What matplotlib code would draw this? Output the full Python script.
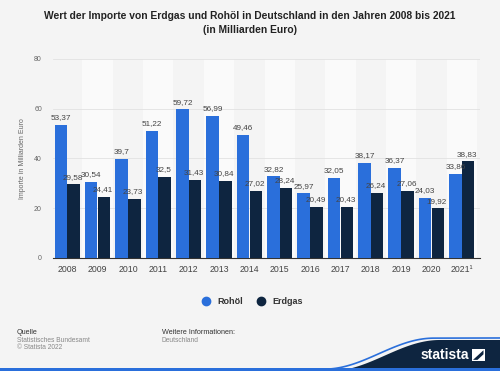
import matplotlib
matplotlib.use("Agg")
import matplotlib.pyplot as plt
from matplotlib.patches import Polygon, Rectangle
from matplotlib.lines import Line2D
import numpy as np

plt.rcParams["font.family"] = ["Liberation Sans", "DejaVu Sans"]

years = ["2008", "2009", "2010", "2011", "2012", "2013", "2014", "2015",
         "2016", "2017", "2018", "2019", "2020", "2021¹"]
rohoel = [53.37, 30.54, 39.7, 51.22, 59.72, 56.99, 49.46, 32.82, 25.97,
          32.05, 38.17, 36.37, 24.03, 33.86]
erdgas = [29.58, 24.41, 23.73, 32.5, 31.43, 30.84, 27.02, 28.24, 20.49,
          20.43, 26.24, 27.06, 19.92, 38.83]
yticks = [0, 20, 40, 60, 80]

BG = "#f4f4f4"
BLUE = "#2a6fdb"
NAVY = "#0e2540"

fig = plt.figure(figsize=(5, 3.71), dpi=100)
fig.patch.set_facecolor(BG)
ax = fig.add_axes([0.106, 0.3046, 0.854, 0.5364])
ax.set_facecolor(BG)

x = np.arange(len(years))
for i in x:
    if i % 2 == 1:
        ax.axvspan(i - 0.5, i + 0.5, color="#fafafa", zorder=0, lw=0)

w = 0.41
ax.bar(x - w / 2 - 0.005, rohoel, w, color=BLUE, zorder=3)
ax.bar(x + w / 2 + 0.005, erdgas, w, color=NAVY, zorder=3)

def fmt(v):
    s = ("%.2f" % v).rstrip("0").rstrip(".")
    return s.replace(".", ",")

for xi, v in zip(x - w / 2, rohoel):
    ax.text(xi, v + 1.5, fmt(v), ha="center", va="bottom", fontsize=5.9,
            color="#444444", zorder=4)
for xi, v in zip(x + w / 2, erdgas):
    ax.text(xi - 0.03, v + 1.5, fmt(v), ha="center", va="bottom", fontsize=5.9,
            color="#444444", zorder=4)

ax.set_ylim(0, 80)
ax.set_xlim(-0.47, 13.6)
ax.set_yticks(yticks)
ax.set_yticklabels([str(t) for t in yticks], fontsize=5, color="#666666")
ax.set_xticks(x)
ax.set_xticklabels(years, fontsize=6.3, color="#444444")
ax.tick_params(axis="both", length=0)
ax.tick_params(axis="y", pad=8)
ax.tick_params(axis="x", pad=5)
ax.grid(axis="y", color="#e2e2e2", lw=0.6, zorder=1)
for s in ["top", "right", "left"]:
    ax.spines[s].set_visible(False)
ax.spines["bottom"].set_color("#333333")
ax.spines["bottom"].set_linewidth(0.8)
ax.set_ylabel("Importe in Milliarden Euro", fontsize=5, color="#666666", labelpad=6)

fig.text(0.5, 0.958, "Wert der Importe von Erdgas und Rohöl in Deutschland in den Jahren 2008 bis 2021",
         ha="center", va="center", fontsize=7.4, fontweight="bold", color="#222222")
fig.text(0.5, 0.918, "(in Milliarden Euro)", ha="center", va="center",
         fontsize=7.4, fontweight="bold", color="#222222")

handles = [Line2D([], [], marker="o", ls="", color=BLUE, markersize=6),
           Line2D([], [], marker="o", ls="", color=NAVY, markersize=6)]
leg = fig.legend(handles, ["Rohöl", "Erdgas"], loc="center", bbox_to_anchor=(0.5, 0.186),
                 ncol=2, frameon=False, fontsize=6.5, handletextpad=0.3, columnspacing=1.0)
for t in leg.get_texts():
    t.set_fontweight("bold")
    t.set_color("#333333")

fig.text(0.034, 0.105, "Quelle", fontsize=5.2, color="#333333", va="center")
fig.text(0.034, 0.083, "Statistisches Bundesamt", fontsize=4.8, color="#888888", va="center")
fig.text(0.034, 0.062, "© Statista 2022", fontsize=4.8, color="#888888", va="center")
fig.text(0.324, 0.105, "Weitere Informationen:", fontsize=5.2, color="#333333", va="center")
fig.text(0.324, 0.083, "Deutschland", fontsize=4.8, color="#888888", va="center")

# statista logo area
t = np.linspace(0, 1, 60)
xs = 0.66 + 0.22 * t
ys = 0.0836 * (0.5 - 0.5 * np.cos(np.pi * t))
pts = [(0.66, 0.0)] + list(zip(xs, ys)) + [(1.0, 0.0836), (1.0, 0.0)]
fig.patches.append(Polygon(pts, closed=True, transform=fig.transFigure,
                           facecolor=NAVY, edgecolor="none", zorder=1))
fig.lines.append(Line2D(list(xs - 0.012) + [1.0], list(ys + 0.005) + [0.089],
                        transform=fig.transFigure, color=BLUE, lw=1.2, zorder=0))
fig.patches.append(Rectangle((0, 0), 1, 0.008, transform=fig.transFigure,
                             facecolor=BLUE, edgecolor="none", zorder=2))
fig.text(0.89, 0.043, "statista", fontsize=10, fontweight="bold", color="white",
         va="center", ha="center", zorder=3)
fig.patches.append(Rectangle((0.944, 0.028), 0.025, 0.03, transform=fig.transFigure,
                             facecolor="white", edgecolor="none", zorder=3))
fig.patches.append(Polygon([(0.946, 0.030), (0.967, 0.056), (0.967, 0.045), (0.955, 0.030)],
                           closed=True, transform=fig.transFigure, facecolor=NAVY,
                           edgecolor="none", zorder=4))

fig.savefig("out.png", dpi=100, facecolor=BG)
